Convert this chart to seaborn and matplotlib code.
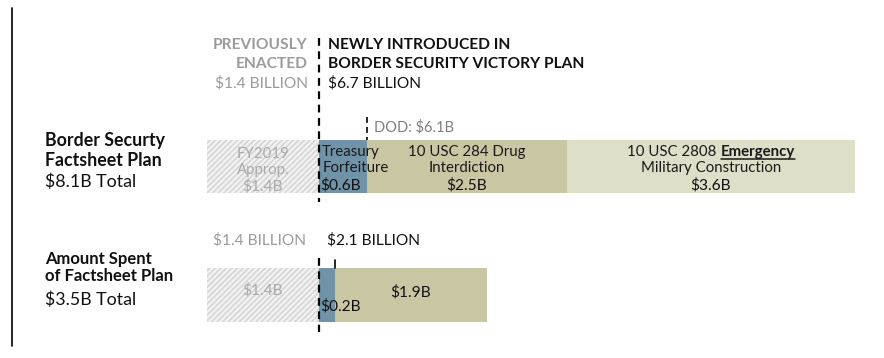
import matplotlib
matplotlib.use("Agg")
import matplotlib.pyplot as plt
import seaborn as sns
import pandas as pd
import numpy as np

# ---- data ----
rows = ["Border Securty Factsheet Plan", "Amount Spent of Factsheet Plan"]
prev_enacted = [1.4, 1.4]
treasury = [0.6, 0.2]
drug_interdiction = [2.5, 1.9]
emergency_milcon = [3.6, 0.0]

seg_names = ["prev", "treasury", "drug", "emergency"]
seg_values = [prev_enacted, treasury, drug_interdiction, emergency_milcon]
seg_colors = ["#F2F2F2", "#7093A8", "#C9C7A3", "#DFDEC8"]

sns.set_theme(style="white")
plt.rcParams["font.family"] = ["Lato", "DejaVu Sans"]
plt.rcParams["hatch.linewidth"] = 1.2

W, H = 884, 358
fig = plt.figure(figsize=(W / 100, H / 100), dpi=100)
ax = fig.add_axes([0, 0, 1, 1])

PX_PER_B = 80.0
X0 = 207.0
def xd(px):
    return (px - X0) / PX_PER_B
ROW0, ROWSTEP = 166.5, 128.5
def yd(py):
    return (py - ROW0) / ROWSTEP

cum = np.cumsum(np.array(seg_values), axis=0)
# draw largest cumulative first so smaller ones overlay
for i in range(len(seg_names) - 1, -1, -1):
    df = pd.DataFrame({"row": rows, "end": cum[i]})
    sns.barplot(data=df, x="end", y="row", order=rows, orient="h",
                color=seg_colors[i], saturation=1, width=0.415, ax=ax,
                linewidth=0)
    if i == 0:
        for p in ax.patches[-len(rows):]:
            p.set_hatch("//////")
            p.set_edgecolor("#D6D6D6")
            p.set_linewidth(0)

ax.set_xlim(xd(0), xd(W))
ax.set_ylim(yd(H), yd(0))
ax.axis("off")

# dashed lines
dash = dict(color="black", lw=1.6, linestyle=(0, (3.5, 2.5)))
b1 = prev_enacted[0]
ax.plot([b1, b1], [yd(38), yd(202)], **dash)
ax.plot([b1, b1], [yd(258), yd(332)], **dash)
dod = prev_enacted[0] + treasury[0]
ax.plot([dod, dod], [yd(117), yd(140)], color="black", lw=1.2, linestyle=(0, (3.5, 2.5)))
spent_t = prev_enacted[1] + treasury[1]
ax.plot([spent_t, spent_t], [yd(260), yd(268)], color="black", lw=1.2)

# left frame line
fig.add_artist(plt.Line2D([12 / W, 12 / W], [1 - 8 / H, 1 - 346 / H], color="black", lw=1.2))

def T(x, y, s, **kw):
    kw.setdefault("va", "center")
    return fig.text(x / W, 1 - y / H, s, **kw)

GRAY = "#9B9B9B"
BLK = "#111111"
HS = 11.2
T(308, 45, "PREVIOUSLY", ha="right", fontweight="bold", color=GRAY, fontsize=HS)
T(308, 64, "ENACTED", ha="right", fontweight="bold", color=GRAY, fontsize=HS)
T(308, 83, "$1.4 BILLION", ha="right", color=GRAY, fontsize=HS)
T(328, 45, "NEWLY INTRODUCED IN", ha="left", fontweight="bold", color=BLK, fontsize=HS)
T(328, 64, "BORDER SECURITY VICTORY PLAN", ha="left", fontweight="bold", color=BLK, fontsize=HS)
T(328, 83, "$6.7 BILLION", ha="left", color=BLK, fontsize=HS)
T(374, 127, "DOD: $6.1B", ha="left", color="#7F7F7F", fontsize=10.5)

LS = 12.8
T(45, 141, "Border Securty", ha="left", fontweight="bold", color=BLK, fontsize=LS)
T(45, 161, "Factsheet Plan", ha="left", fontweight="bold", color=BLK, fontsize=LS)
T(45, 182, "$8.1B Total", ha="left", color=BLK, fontsize=LS)
T(45, 259, "Amount Spent", ha="left", fontweight="bold", color=BLK, fontsize=12)
T(45, 276, "of Factsheet Plan", ha="left", fontweight="bold", color=BLK, fontsize=12)
T(45, 300, "$3.5B Total", ha="left", color=BLK, fontsize=LS)

T(306, 240, "$1.4 BILLION", ha="right", color=GRAY, fontsize=HS)
T(327, 240, "$2.1 BILLION", ha="left", color=BLK, fontsize=HS)

# in-bar labels (positions in data x)
BS = 10.8
def TD(xdata, y, s, **kw):
    kw.setdefault("va", "center")
    kw.setdefault("fontsize", BS)
    xf = (xdata - xd(0)) / (xd(W) - xd(0))
    return fig.text(xf, 1 - y / H, s, **kw)

c0 = prev_enacted[0] / 2
TD(c0, 154, "FY2019", ha="center", color="#ABABAB")
TD(c0, 170, "Approp.", ha="center", color="#ABABAB")
TD(c0, 186, "$1.4B", ha="center", color="#ABABAB", fontsize=11.2)
TD(b1 + 0.04, 152, "Treasury", ha="left", color="#1a1a1a")
TD(b1 + 0.04, 168, "Forfeiture", ha="left", color="#1a1a1a")
TD(b1 + 0.01, 185, "$0.6B", ha="left", color=BLK, fontsize=11.2)
c2 = cum[1][0] + drug_interdiction[0] / 2
TD(c2, 152, "10 USC 284 Drug", ha="center", color="#1a1a1a")
TD(c2, 168, "Interdiction", ha="center", color="#1a1a1a")
TD(c2, 185, "$2.5B", ha="center", color=BLK, fontsize=11.2)
c3 = cum[2][0] + emergency_milcon[0] / 2
TD(c3, 168, "Military Construction", ha="center", color="#1a1a1a")
TD(c3, 185, "$3.6B", ha="center", color=BLK, fontsize=11.2)

# "10 USC 2808 Emergency" with bold underlined word
r = fig.canvas.get_renderer()
t1 = TD(0, 152, "10 USC 2808 ", ha="left", color="#1a1a1a")
t2 = TD(0, 152, "Emergency", ha="left", color="#1a1a1a", fontweight="bold")
w1 = t1.get_window_extent(r).width
w2 = t2.get_window_extent(r).width
cpx = X0 + c3 * PX_PER_B
start = cpx - (w1 + w2) / 2
t1.set_x(start / W)
t2.set_x((start + w1) / W)
fig.add_artist(plt.Line2D([(start + w1) / W, (start + w1 + w2) / W],
                          [1 - 159 / H, 1 - 159 / H], color="#1a1a1a", lw=1.1))

# bottom bar labels
TD(prev_enacted[1] / 2, 290, "$1.4B", ha="center", color="#ABABAB", fontsize=11.2)
TD(b1 + 0.01, 306, "$0.2B", ha="left", color=BLK, fontsize=11.2)
TD(cum[1][1] + drug_interdiction[1] / 2, 292, "$1.9B", ha="center", color=BLK, fontsize=11.2)

fig.savefig("out.png", dpi=100, facecolor="white")
